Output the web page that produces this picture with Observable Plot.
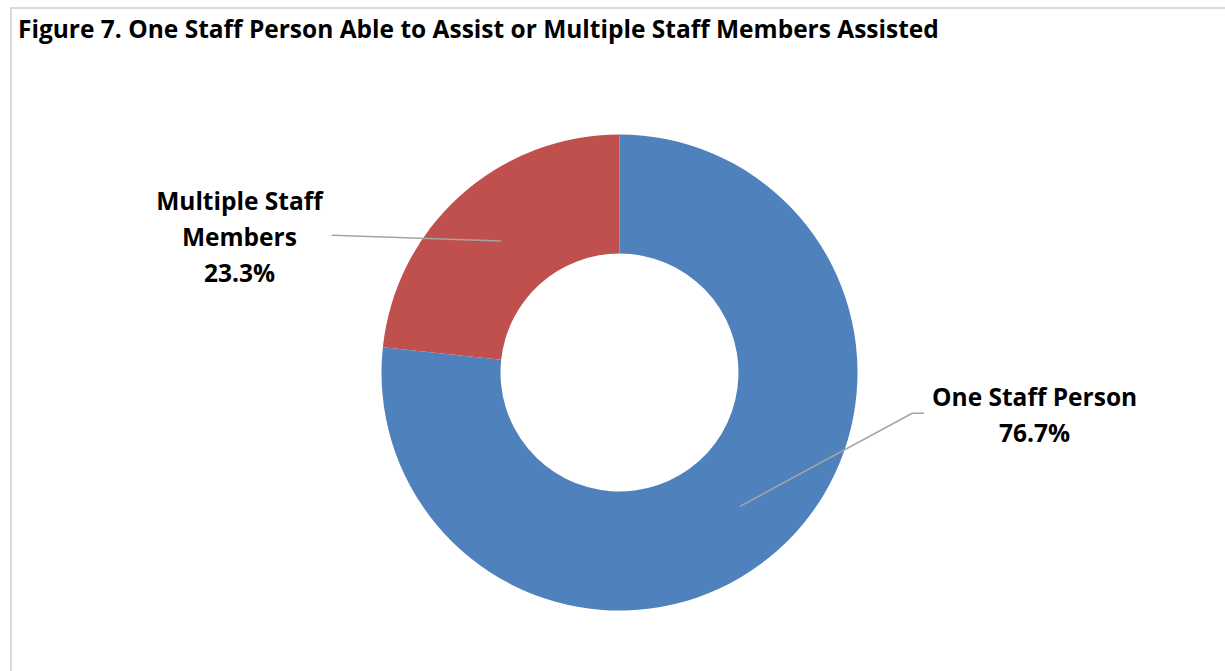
<!DOCTYPE html>
<html>
<head>
<meta charset="utf-8">
<script src="https://cdn.jsdelivr.net/npm/d3@7"></script>
<script src="https://cdn.jsdelivr.net/npm/@observablehq/plot@0.6"></script>
<style>
  html, body { margin: 0; padding: 0; background: #fff; }
  body { width: 1225px; height: 671px; position: relative; overflow: hidden; font-family: "Open Sans", Lato, sans-serif; }
  #frame { position: absolute; left: 10px; top: 7px; width: 1230px; height: 680px; border-left: 2px solid #d9d9d9; border-top: 2px solid #d9d9d9; box-sizing: border-box; }
  #title { position: absolute; left: 18px; top: 14px; font-weight: bold; font-size: 24.5px; color: #000; white-space: nowrap; line-height: 1.2; }
  #chart { position: absolute; left: 0; top: 60px; }
</style>
</head>
<body>
<div id="frame"></div>
<div id="title">Figure 7. One Staff Person Able to Assist or Multiple Staff Members Assisted</div>
<div id="chart"></div>
<script>
// ---- data ----
const categories = ["One Staff Person", "Multiple Staff Members"];
const values = [76.7, 23.3];
const colors = ["#4F81BD", "#C0504D"];
const labelTexts = ["One Staff Person\n76.7%", "Multiple Staff\nMembers\n23.3%"];

// ---- layout (units of outer radius, donut centre at 0,0) ----
const labelX = [1.742, -1.599];
const labelY = [-0.166, 0.584];
const leaderOne = [[0.506, -0.559], [1.228, -0.169], [1.275, -0.169]];
const leaderMulti = [[-1.209, 0.579], [-0.502, 0.555]];
const holeRatio = 0.5;

const slices = categories.map((c, i) => ({category: c, value: values[i], color: colors[i]}));
const labels = categories.map((c, i) => ({category: c, text: labelTexts[i], x: labelX[i], y: labelY[i]}));
const leaders = [
  ...leaderOne.map(([x, y]) => ({id: "one", x, y})),
  ...leaderMulti.map(([x, y]) => ({id: "multi", x, y}))
];

const W = 1225, H = 611, R = 238, CX = 619.5, CY = 312.5;

// custom donut mark drawn through Plot's x/y scales
function donut(data) {
  return (index, scales) => {
    const x0 = scales.x(0), y0 = scales.y(0);
    const rOut = scales.x(1) - x0;
    const pie = d3.pie().sort(null).value(d => d.value)(data);
    const arc = d3.arc().innerRadius(rOut * holeRatio).outerRadius(rOut);
    const g = d3.create("svg:g").attr("transform", `translate(${x0},${y0})`);
    g.selectAll("path").data(pie).join("path")
      .attr("d", arc)
      .attr("fill", d => d.data.color);
    return g.node();
  };
}

const plot = Plot.plot({
  width: W,
  height: H,
  margin: 0,
  x: {domain: [-CX / R, (W - CX) / R], axis: null},
  y: {domain: [-(H - CY) / R, CY / R], axis: null},
  style: {background: "transparent"},
  marks: [
    donut(slices),
    Plot.line(leaders, {x: "x", y: "y", z: "id", stroke: "#a5a5a5", strokeWidth: 1.5}),
    Plot.text(labels, {
      x: "x", y: "y", text: "text",
      fontSize: 24.5, fontWeight: "bold", fill: "#000",
      lineHeight: 1.47, textAnchor: "middle", lineAnchor: "middle",
      fontFamily: "'Open Sans', Lato, sans-serif"
    })
  ]
});
document.getElementById("chart").appendChild(plot);
</script>
</body>
</html>
